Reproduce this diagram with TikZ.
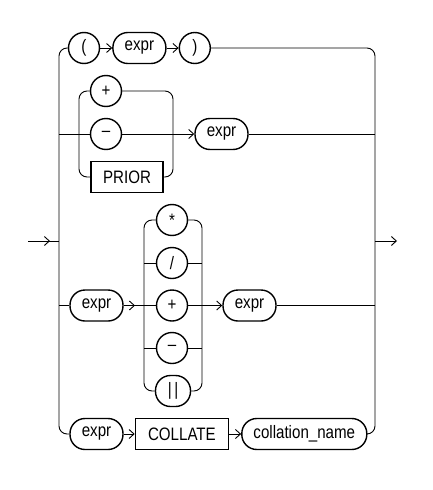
\documentclass[tikz,border=0pt]{standalone}
\usepackage{fontspec}
\setmainfont{Liberation Sans}[FakeStretch=0.84]
\usetikzlibrary{arrows.meta, positioning}
\tikzset{
	x=1pt, y=-1pt,
	>={Straight Barb[length=5pt,width=9pt]},
	node distance=12pt,
	rail/.style={line width=0.9pt, rounded corners=8pt},
	every path/.style={line width=0.9pt},
	ident/.style={draw, rectangle, rounded corners=15pt, line width=1.4pt, minimum height=31pt, inner xsep=4pt, inner ysep=0pt, font=\fontsize{18}{21}\selectfont},
	keyword/.style={draw, rectangle, line width=1.4pt, minimum height=31pt, inner xsep=4pt, inner ysep=0pt, font=\fontsize{18}{21}\selectfont},
	symb/.style={draw, circle, line width=1.4pt, minimum size=31pt, inner sep=0pt, font=\fontsize{18}{21}\selectfont},
	symbwide/.style={symb, rectangle, rounded corners=15pt, minimum width=35pt, minimum height=31pt}
}
\begin{document}
\begin{tikzpicture}
	\useasboundingbox (0,0) rectangle (433,490);
	% rail corners and ends
	\coordinate (lt) at (59,48);
	\coordinate (lb) at (59,434);
	\coordinate (rt) at (375,48);
	\coordinate (rb) at (375,434);
	\coordinate (entry) at (28,241);
	\coordinate (entrytip) at (50,241);
	\coordinate (exit) at (397,241);
	\coordinate (inL) at (79,134);
	\coordinate (inR) at (173,134);
	\coordinate (opL) at (144,305.5);
	\coordinate (opR) at (202,305.5);
	\coordinate (opLtip) at (135,305.5);
	
	% row 1
	\node[symb] (lpar) at (84,48) {(};
	\node[ident, minimum width=53pt, right=of lpar] (expra) {expr};
	\node[symb, right=of expra] (rpar) {)};
	% rows 2 and 3
	\node[symb] (plusa) at (106,91) {+};
	\node[symb] (minusa) at (106,134) {–};
	\node[keyword, minimum width=72pt] (prior) at (127,177) {PRIOR};
	\node[ident, minimum width=53pt] (exprb) at (221.5,134) {expr};
	% row 4
	\node[ident, minimum width=53pt] (exprc) at (96.5,305.5) {expr};
	\node[symb] (star) at (172,220) {*};
	\node[symb] (slash) at (172,263) {/};
	\node[symb] (plusb) at (172,305.5) {+};
	\node[symb] (minusb) at (172,348) {–};
	\node[symbwide] (bars) at (173,391) {|\hspace{2.5pt}|};
	\node[ident, minimum width=53pt] (exprd) at (249.5,305.5) {expr};
	% row 5
	\node[ident, minimum width=53pt] (expre) at (96.5,434) {expr};
	\node[keyword, minimum width=93pt, right=11pt of expre] (collate) {COLLATE};
	\node[ident, minimum width=125pt, right=of collate] (collname) {collation\_name};
	
	% main rails
	\draw (entry) -- (lt |- entry);
	\draw[->] (entry) -- (entrytip);
	\draw[->] (rt |- exit) -- (exit);
	\draw[rail] (lpar.west) -- (lt) -- (lb) -- (expre.west);
	\draw[rail] (rpar.east) -- (rt) -- (rb) -- (collname.east);
	
	\draw[->] (lpar) -- (expra);
	\draw[->] (expra) -- (rpar);
	
	% sign loop
	\draw[rail] (plusa.west) -- (inL |- plusa) -- (inL |- prior) -- (prior.west);
	\draw[rail] (plusa.east) -- (inR |- plusa) -- (inR |- prior) -- (prior.east);
	\draw (lt |- minusa) -- (minusa);
	\draw[->] (minusa) -- (exprb);
	\draw (exprb) -- (rt |- exprb);
	
	% operator loop
	\draw (exprc) -- (opL);
	\draw[->] (exprc) -- (opLtip);
	\draw[rail] (star.west) -- (opL |- star) -- (opL |- bars) -- (bars.west);
	\draw[rail] (star.east) -- (opR |- star) -- (opR |- bars) -- (bars.east);
	\foreach \n in {slash, plusb, minusb} {
		\draw (opL |- \n) -- (\n);
		\draw (\n) -- (opR |- \n);
	}
	\draw[->] (opR) -- (exprd);
	\draw (exprd) -- (rt |- exprd);
	\draw (lt |- exprc) -- (exprc);
	
	% collate row
	\draw[->] (expre) -- (collate);
	\draw[->] (collate) -- (collname);
\end{tikzpicture}
\end{document}
